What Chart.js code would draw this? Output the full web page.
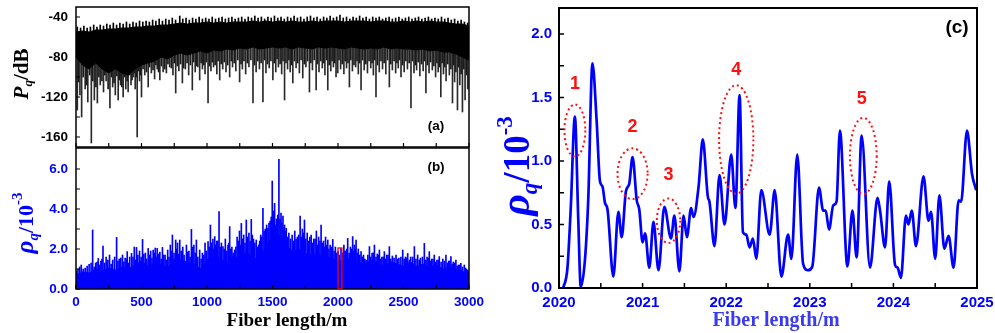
<!DOCTYPE html>
<html><head><meta charset="utf-8">
<script src="https://cdn.jsdelivr.net/npm/chart.js@4.4.0/dist/chart.umd.min.js"></script>
<style>
html,body{margin:0;padding:0;background:#fff;width:995px;height:333px;overflow:hidden;position:relative}
canvas{position:absolute;display:block}
</style></head><body>
<canvas id="ca" width="495" height="150" style="left:0;top:0;width:495px;height:150px"></canvas>
<canvas id="cb" width="495" height="187" style="left:0;top:146px;width:495px;height:187px"></canvas>
<canvas id="cc" width="505" height="333" style="left:490px;top:0;width:505px;height:333px"></canvas>
<script>
// ---------- DATA ----------
// panel (a)/(b) common sampling grid (m)
const abX = [0,50,100,150,200,250,300,350,400,450,500,550,600,650,700,750,800,850,900,950,1000,1050,1100,1150,1200,1250,1300,1350,1400,1450,1500,1550,1600,1650,1700,1750,1800,1850,1900,1950,2000,2050,2100,2150,2200,2250,2300,2350,2400,2450,2500,2550,2600,2650,2700,2750,2800,2850,2900,2950,3000];
// (a) upper and lower edge of the dense P_q band (dB)
const aTop = [-55,-54,-55,-53,-53,-52,-52,-51,-51,-50,-50,-49,-49,-48,-48,-47,-46,-47,-46,-46,-45,-46,-45,-46,-45,-45,-45,-44,-45,-44,-45,-44,-45,-44,-45,-45,-44,-45,-44,-44,-44,-45,-44,-44,-44,-45,-44,-44,-45,-45,-44,-45,-44,-45,-44,-45,-45,-46,-47,-47,-49];
const aBase = [-80,-88,-92,-86,-92,-96,-92,-96,-98,-92,-88,-86,-84,-80,-82,-78,-76,-78,-76,-74,-76,-73,-74,-72,-73,-71,-72,-70,-72,-71,-70,-71,-70,-72,-70,-71,-72,-70,-71,-70,-71,-72,-70,-71,-72,-71,-72,-70,-72,-71,-72,-72,-73,-72,-74,-73,-75,-75,-77,-80,-83];
// (a) upward excursions of the band top (position m, level dB)
const aPeakX = [10,35,60,85,110,135,160,185,210,235,260,285,310,335,360,385,410,435,460,485,510,535,560,585,610,635,660,685,710,735,760,792,815,840,865,890,915,940,965,990,1015,1040,1065,1090,1115,1140,1165,1190,1215,1240,1265,1290,1315,1340,1365,1390,1415,1440,1465,1490,1515,1540,1565,1590,1615,1640,1665,1690,1715,1740,1765,1790,1815,1840,1865,1890,1915,1940,1965,1990,2015,2040,2065,2090,2115,2140,2165,2190,2215,2240,2265,2290,2315,2340,2365,2390,2415,2440,2465,2490,2515,2540,2565,2590,2615,2640,2665,2690,2715,2740,2765,2790,2815,2840,2865,2890,2915,2940,2965,2990];
const aPeakY = [-50,-51,-49,-51,-50,-48,-50,-48,-49,-47,-48,-46,-48,-46,-47,-45,-47,-45,-46,-44,-45,-44,-45,-43,-44,-42,-44,-42,-43,-41,-43,-39,-42,-41,-43,-41,-42,-40,-42,-41,-42,-40,-42,-41,-40,-42,-41,-40,-42,-41,-40,-42,-40,-41,-39,-41,-40,-42,-40,-41,-39,-41,-40,-42,-40,-41,-39,-41,-40,-42,-40,-39,-41,-40,-42,-40,-41,-39,-41,-40,-38,-41,-40,-42,-40,-41,-39,-41,-40,-42,-40,-41,-40,-42,-41,-40,-42,-41,-40,-42,-41,-40,-42,-41,-40,-42,-41,-40,-42,-41,-42,-40,-42,-41,-43,-42,-44,-43,-45,-46];
// (a) deep downward dips (position m, depth dB)
const aSpikeX = [10,30,43,70,90,117,140,163,185,210,230,259,280,300,322,340,360,380,398,420,437,452,467,485,500,525,551,575,600,620,640,665,690,715,740,761,785,812,835,860,888,910,930,944,965,985,1008,1030,1050,1075,1097,1120,1145,1173,1195,1220,1249,1270,1295,1320,1351,1375,1400,1427,1450,1475,1503,1525,1545,1570,1592,1615,1635,1655,1680,1705,1731,1755,1782,1805,1833,1855,1880,1900,1922,1945,1965,1985,1998,2020,2045,2065,2087,2110,2135,2155,2176,2200,2225,2250,2270,2290,2315,2340,2365,2392,2415,2440,2460,2481,2505,2530,2557,2580,2600,2625,2650,2671,2695,2720,2745,2765,2785,2805,2825,2850,2874,2890,2912,2930,2950,2970,2990];
const aSpikeY = [-133,-118,-140,-112,-125,-166,-123,-126,-108,-115,-104,-131,-110,-118,-123,-108,-120,-112,-115,-108,-100,-112,-160,-104,-120,-98,-110,-96,-102,-92,-103,-95,-96,-90,-98,-116,-94,-106,-92,-98,-113,-95,-90,-103,-92,-97,-126,-94,-90,-97,-103,-92,-95,-100,-90,-94,-105,-92,-97,-90,-126,-95,-92,-125,-96,-91,-103,-95,-90,-97,-123,-92,-95,-106,-91,-96,-101,-90,-115,-93,-113,-95,-91,-98,-113,-94,-90,-100,-96,-92,-97,-91,-110,-94,-90,-97,-113,-93,-96,-91,-98,-120,-95,-92,-97,-110,-93,-96,-91,-100,-95,-92,-131,-96,-93,-99,-94,-116,-96,-93,-100,-95,-120,-97,-104,-98,-126,-105,-133,-108,-135,-123,-112];
// (a) shallower dips that roughen the band floor
const aShallowX = [20,55,80,105,128,152,175,198,220,245,270,290,312,332,350,370,390,410,428,445,460,475,492,512,538,562,588,610,630,652,678,702,728,750,773,798,822,848,873,898,920,955,975,995,1018,1040,1062,1085,1108,1132,1158,1185,1208,1235,1260,1282,1308,1335,1362,1388,1413,1438,1462,1488,1514,1535,1558,1580,1603,1625,1645,1668,1692,1718,1743,1768,1793,1818,1843,1868,1890,1912,1933,1955,1975,2008,2032,2055,2076,2098,2122,2145,2165,2188,2212,2237,2260,2280,2302,2328,2352,2378,2403,2428,2450,2470,2493,2518,2543,2568,2590,2612,2638,2660,2683,2707,2732,2755,2775,2795,2815,2838,2862,2882,2900,2922,2940,2960,2980];
const aShallowY = [-105,-100,-108,-98,-104,-110,-100,-104,-98,-112,-100,-106,-99,-103,-110,-100,-104,-98,-103,-96,-100,-94,-98,-92,-95,-90,-93,-88,-95,-89,-92,-87,-91,-86,-89,-87,-91,-86,-88,-85,-89,-86,-88,-85,-89,-85,-88,-84,-87,-85,-88,-84,-86,-83,-87,-84,-86,-83,-88,-84,-86,-83,-87,-84,-86,-82,-87,-84,-86,-83,-88,-84,-86,-83,-87,-84,-86,-83,-87,-84,-86,-83,-88,-84,-86,-83,-87,-84,-86,-83,-88,-84,-86,-83,-87,-84,-86,-83,-88,-84,-86,-83,-87,-84,-86,-83,-88,-84,-86,-84,-88,-85,-87,-84,-88,-85,-89,-86,-90,-86,-90,-87,-92,-88,-95,-90,-97,-92,-98];
const aAnchor = -60;
// (b) dense base level and peaks of rho_q (x10^-3)
const bBase = [0.70,0.85,0.80,1.00,0.90,1.05,0.95,1.10,1.00,1.20,1.40,1.15,1.30,1.25,1.05,1.50,1.45,1.35,1.25,1.00,1.45,1.75,1.55,1.30,1.65,1.50,1.85,1.60,1.40,2.20,2.60,2.70,2.20,1.90,2.00,1.80,1.70,1.80,1.50,1.60,1.35,1.50,1.55,1.35,1.25,1.45,1.35,1.15,1.35,1.25,1.15,1.35,1.15,1.25,1.10,1.20,1.00,1.10,1.00,0.90,0.70];
const bSpikeX = [15,40,70,100,127,150,170,190,206,230,256,280,310,330,355,375,391,410,424,445,462,485,508,530,551,570,589,605,620,640,660,680,700,720,736,761,775,792,815,843,862,881,900,919,944,965,985,1008,1026,1045,1059,1075,1092,1110,1122,1140,1160,1173,1190,1211,1230,1248,1262,1280,1300,1320,1338,1355,1376,1395,1410,1427,1445,1465,1482,1498,1508,1516,1530,1549,1565,1580,1592,1605,1625,1650,1670,1690,1711,1728,1744,1765,1795,1815,1835,1852,1871,1890,1905,1922,1940,1960,1980,2000,2023,2045,2060,2074,2095,2112,2125,2138,2155,2176,2195,2214,2240,2260,2278,2300,2316,2335,2354,2372,2392,2415,2443,2465,2494,2515,2532,2555,2583,2608,2630,2659,2680,2697,2715,2735,2755,2773,2800,2824,2845,2862,2880,2900,2920,2938,2964,2980,2990];
const bSpikeY = [1.0,1.2,1.05,1.23,2.95,1.3,1.53,1.4,2.15,1.6,1.7,1.45,2.58,1.5,1.7,1.55,1.87,1.6,1.78,2.1,2.08,1.9,2.48,1.8,2.03,1.9,1.95,2.05,2.03,1.85,2.08,1.7,1.95,2.2,2.7,2.45,2.3,2.45,2.1,2.2,1.9,2.98,2.2,2.45,1.95,1.8,2.3,2.37,3.2,2.5,2.62,2.4,3.87,2.3,2.12,2.5,2.2,3.12,2.1,1.95,2.6,2.9,3.28,2.7,3.45,2.8,3.48,2.5,2.45,2.2,2.7,4.03,3.0,3.03,3.4,5.4,3.9,4.28,3.5,6.48,3.8,3.65,3.2,3.03,2.8,2.7,2.9,2.6,3.65,3.0,3.45,2.8,2.7,2.5,2.9,2.6,3.2,2.4,2.6,2.45,2.2,2.48,2.1,1.9,2.03,2.2,1.9,2.53,2.1,2.62,2.2,2.45,2.0,1.87,1.7,1.45,2.12,1.8,2.2,1.75,1.95,1.6,1.87,1.7,2.12,1.65,1.7,1.55,1.95,1.6,1.78,1.6,2.12,1.7,1.55,2.28,1.6,1.87,1.5,1.7,1.45,1.62,1.5,1.7,1.4,1.62,1.35,1.45,1.2,1.28,1.2,1.0,0.95];
const bMidX = [5,28,55,85,115,140,160,180,198,218,243,268,295,320,342,365,383,400,435,453,472,497,518,540,560,580,597,612,630,650,670,690,710,728,748,768,784,803,825,853,871,890,910,930,955,975,995,1017,1035,1052,1067,1083,1101,1131,1150,1167,1182,1200,1220,1239,1255,1271,1290,1310,1329,1346,1365,1385,1402,1418,1436,1455,1473,1490,1503,1512,1523,1540,1557,1572,1586,1598,1615,1637,1660,1680,1700,1720,1736,1754,1775,1785,1805,1825,1843,1862,1880,1898,1913,1931,1950,1970,1990,2010,2035,2053,2067,2085,2104,2118,2131,2147,2165,2185,2205,2228,2250,2270,2290,2308,2325,2345,2363,2382,2403,2428,2454,2480,2505,2524,2545,2570,2595,2620,2645,2670,2688,2706,2725,2745,2765,2787,2812,2835,2853,2871,2890,2910,2928,2950,2972,2995];
const bMidY = [0.9,1.1,1.0,1.15,1.3,1.1,1.35,1.2,1.5,1.3,1.45,1.25,1.6,1.4,1.55,1.35,1.5,1.3,1.6,1.45,1.7,1.6,1.75,1.5,1.7,1.55,1.8,1.6,1.75,1.5,1.7,1.45,1.6,1.9,1.8,2.0,1.75,1.9,1.7,1.85,1.6,2.1,1.8,1.6,1.5,1.7,1.9,2.1,2.3,2.0,2.2,2.4,2.1,2.0,1.9,2.3,2.0,1.8,2.1,2.4,2.2,2.5,2.3,2.6,2.4,2.7,2.3,2.1,2.4,2.6,2.9,3.2,3.3,3.6,3.1,3.4,3.2,3.7,3.5,3.3,3.0,2.9,2.6,2.5,2.4,2.5,2.7,2.6,2.8,2.5,2.4,2.6,2.3,2.5,2.2,2.4,2.3,2.1,2.2,2.0,2.1,1.9,1.8,1.7,1.8,1.9,2.0,1.8,2.0,1.9,2.0,1.8,1.7,1.6,1.5,1.7,1.6,1.8,1.6,1.7,1.5,1.6,1.5,1.7,1.5,1.55,1.5,1.6,1.5,1.55,1.45,1.6,1.5,1.45,1.6,1.45,1.55,1.4,1.5,1.35,1.45,1.35,1.4,1.3,1.4,1.25,1.3,1.15,1.2,1.1,1.05,0.85];
// (b) zoom window marker
const bBoxX = [2000, 2030];
const bBoxY = [0, 2.05];
// (c) zoomed rho_q curve
const cX = [2020.05,2020.10,2020.14,2020.19,2020.23,2020.26,2020.31,2020.35,2020.40,2020.45,2020.49,2020.52,2020.55,2020.58,2020.65,2020.71,2020.75,2020.80,2020.84,2020.88,2020.93,2020.96,2021.00,2021.03,2021.08,2021.13,2021.19,2021.26,2021.34,2021.38,2021.44,2021.49,2021.53,2021.58,2021.61,2021.67,2021.72,2021.78,2021.80,2021.86,2021.92,2021.98,2022.06,2022.11,2022.16,2022.20,2022.24,2022.28,2022.32,2022.36,2022.42,2022.52,2022.58,2022.66,2022.74,2022.78,2022.85,2022.92,2022.98,2023.03,2023.11,2023.16,2023.19,2023.23,2023.28,2023.32,2023.36,2023.45,2023.51,2023.56,2023.62,2023.72,2023.81,2023.84,2023.90,2023.95,2024.02,2024.05,2024.09,2024.15,2024.18,2024.22,2024.27,2024.36,2024.42,2024.45,2024.50,2024.55,2024.61,2024.66,2024.72,2024.78,2024.81,2024.88,2024.94,2024.99];
const cY = [0.00,0.15,0.62,1.35,0.55,0.01,0.22,0.70,1.77,1.32,0.84,0.80,0.67,0.62,0.09,0.60,0.40,0.76,0.82,1.03,0.69,0.62,0.36,0.43,0.16,0.52,0.14,0.64,0.39,0.57,0.13,0.57,0.40,0.63,0.56,0.80,1.17,0.72,0.68,0.33,0.89,0.50,1.05,0.63,1.52,0.44,0.42,0.32,0.39,0.23,0.77,0.42,0.77,0.09,0.42,0.23,1.05,0.19,0.14,0.17,0.79,0.61,0.61,0.46,0.65,0.68,1.24,0.17,0.61,0.24,1.20,0.16,0.71,0.61,0.32,0.84,0.18,0.16,0.08,0.57,0.50,0.61,0.33,0.88,0.53,0.60,0.23,0.73,0.31,0.41,0.16,0.69,0.68,1.24,0.90,0.77];
// (c) circled features
const ellLabel = ['1','2','3','4','5'];
const ellCx = [2020.19,2020.88,2021.31,2022.12,2023.64];
const ellCy = [1.24,0.90,0.53,1.17,1.04];
const ellRx = [0.125,0.18,0.14,0.205,0.16];
const ellRy = [0.205,0.20,0.175,0.427,0.30];
const lblX = [2020.19,2020.88,2021.31,2022.12,2023.62];
const lblY = [1.61,1.27,0.89,1.72,1.49];
// tick values
const aTicksY = [-40,-80,-120,-160];
const aMinorY = [-60,-100,-140];
const abTicksX = [0,500,1000,1500,2000,2500,3000];
const abMinorX = [250,750,1250,1750,2250,2750];
const bTicksY = [0,2,4,6];
const bMinorY = [1,3,5];
const cTicksX = [2020,2021,2022,2023,2024,2025];
const cMinorX = [2020.5,2021.5,2022.5,2023.5,2024.5];
const cTicksY = [0,0.5,1,1.5,2];
const cMinorY = [0.25,0.75,1.25,1.75];

// ---------- HELPERS ----------
const SERIF = "'Liberation Serif','Times New Roman',serif";
const SANS = "'Liberation Sans',Arial,sans-serif";
const BLUE = '#0000ff';

function rich(ctx, x, y, rot, parts, color){
  ctx.save(); ctx.translate(x, y); ctx.rotate(rot);
  ctx.fillStyle = color; ctx.textBaseline = 'alphabetic'; ctx.textAlign = 'left';
  let w = 0;
  parts.forEach(p => { ctx.font = p.f; p.w = ctx.measureText(p.t).width; w += p.w; });
  let cx = -w / 2;
  parts.forEach(p => { ctx.font = p.f; ctx.fillText(p.t, cx, p.dy || 0); cx += p.w; });
  ctx.restore();
}
function label(ctx, t, x, y, font, color){
  ctx.save(); ctx.font = font; ctx.fillStyle = color; ctx.textAlign = 'center'; ctx.textBaseline = 'middle';
  ctx.fillText(t, x, y); ctx.restore();
}
function framePlugin(cfg){
  return { id: 'frame' + cfg.name, afterDraw(chart){
    const ctx = chart.ctx, a = chart.chartArea, sx = chart.scales.x, sy = chart.scales.y;
    ctx.save(); ctx.strokeStyle = '#000'; ctx.lineWidth = cfg.tw;
    ctx.beginPath();
    cfg.xt.forEach(v => { const p = sx.getPixelForValue(v); ctx.moveTo(p, a.bottom); ctx.lineTo(p, a.bottom - cfg.len); });
    cfg.yt.forEach(v => { const p = sy.getPixelForValue(v); ctx.moveTo(a.left, p); ctx.lineTo(a.left + cfg.len, p); });
    ctx.stroke();
    ctx.lineWidth = cfg.lw;
    ctx.strokeRect(a.left, a.top, a.right - a.left, a.bottom - a.top);
    ctx.restore();
    cfg.deco(chart);
  }};
}
function yScale(min, max, ticks, color, size, pad, width, fmt){
  return { type: 'linear', min, max,
    afterBuildTicks: s => { s.ticks = ticks.map(v => ({ value: v })); },
    afterFit: s => { s.width = width; s.paddingTop = 0; s.paddingBottom = 0; },
    grid: { display: false, drawTicks: false }, border: { display: false },
    ticks: { color, padding: pad, font: { family: SANS, size, weight: 'bold' }, callback: fmt } };
}
function xScale(min, max, ticks, color, size, pad, height, fmt, show){
  return { type: 'linear', min, max, offset: false, display: show,
    afterBuildTicks: s => { s.ticks = ticks.map(v => ({ value: v })); },
    afterFit: s => { s.height = height; s.paddingLeft = 0; s.paddingRight = 0; },
    grid: { display: false, drawTicks: false, offset: false }, border: { display: false },
    ticks: { color, padding: pad, maxRotation: 0, autoSkip: false, font: { family: SANS, size, weight: 'bold' }, callback: fmt } };
}
const baseOpts = { responsive: false, animation: false, events: [],
  plugins: { legend: { display: false }, tooltip: { enabled: false } } };
const thin = (xs, ys, lo, color) => ({ type: 'bar', data: xs.map((x, i) => ({ x, y: lo === null ? ys[i] : [ys[i], lo] })), backgroundColor: color, barThickness: 1, grouped: false });

// ---------- PANEL (a) ----------
new Chart(document.getElementById('ca'), {
  type: 'line',
  data: { datasets: [
    { data: abX.map((x, i) => ({ x, y: aTop[i] })), borderColor: '#000', borderWidth: 1, pointRadius: 0, tension: 0, fill: '+1', backgroundColor: '#000' },
    { data: abX.map((x, i) => ({ x, y: aBase[i] })), borderColor: '#000', borderWidth: 1, pointRadius: 0, tension: 0, fill: false },
    thin(aPeakX, aPeakY, aAnchor, '#000'),
    thin(aShallowX, aShallowY, aAnchor, '#1a1a1a'),
    thin(aSpikeX, aSpikeY, aAnchor, '#2a2a2a')
  ]},
  options: Object.assign({}, baseOpts, {
    layout: { padding: { top: 7, right: 26, bottom: 3, left: 0 } },
    scales: {
      x: xScale(0, 3000, abTicksX, '#000', 13.5, 5, 0, v => String(v), false),
      y: yScale(-170, -30, aTicksY, '#000', 13.5, 8, 76, v => String(v))
    }
  }),
  plugins: [framePlugin({ name: 'a', lw: 1.5, tw: 1.2, len: 4, xt: abTicksX.concat(abMinorX), yt: aTicksY.concat(aMinorY), deco: ch => {
    const ctx = ch.ctx;
    rich(ctx, 28, 74, -Math.PI / 2, [
      { t: 'P', f: `italic bold 21px ${SERIF}` },
      { t: 'q', f: `italic bold 13px ${SERIF}`, dy: 4 },
      { t: '/dB', f: `bold 21px ${SERIF}` }], '#000');
    label(ctx, '(a)', 436, 126, `bold 13.5px ${SANS}`, '#000');
  }})]
});

// ---------- PANEL (b) ----------
new Chart(document.getElementById('cb'), {
  type: 'line',
  data: { datasets: [
    { data: abX.map((x, i) => ({ x, y: bBase[i] })), borderColor: BLUE, borderWidth: 1, pointRadius: 0, tension: 0, fill: 'origin', backgroundColor: BLUE },
    thin(bMidX, bMidY, null, BLUE),
    thin(bSpikeX, bSpikeY, null, BLUE)
  ]},
  options: Object.assign({}, baseOpts, {
    layout: { padding: { top: 2, right: 26, bottom: 0, left: 0 } },
    scales: {
      x: xScale(0, 3000, abTicksX, BLUE, 13.5, 5, 44, v => String(v), true),
      y: yScale(0, 7.05, bTicksY, BLUE, 13.5, 8, 76, v => Number(v).toFixed(1))
    }
  }),
  plugins: [framePlugin({ name: 'b', lw: 1.5, tw: 1.2, len: 4, xt: abTicksX.concat(abMinorX), yt: bTicksY.concat(bMinorY), deco: ch => {
    const ctx = ch.ctx, sx = ch.scales.x, sy = ch.scales.y;
    const x0 = sx.getPixelForValue(bBoxX[0]), x1 = sx.getPixelForValue(bBoxX[1]);
    const y0 = sy.getPixelForValue(bBoxY[0]), y1 = sy.getPixelForValue(bBoxY[1]);
    ctx.save(); ctx.strokeStyle = '#ff0000'; ctx.lineWidth = 1.3;
    ctx.strokeRect(x0, y1, x1 - x0, y0 - y1); ctx.restore();
    rich(ctx, 33, 77, -Math.PI / 2, [
      { t: 'ρ', f: `italic bold 25px ${SERIF}` },
      { t: 'q', f: `italic bold 15px ${SERIF}`, dy: 5 },
      { t: '/10', f: `bold 22px ${SERIF}` },
      { t: '-3', f: `bold 15px ${SERIF}`, dy: -11 }], BLUE);
    rich(ctx, 287, 180, 0, [{ t: 'Fiber length/m', f: `bold 19px ${SERIF}` }], '#000');
    label(ctx, '(b)', 436, 21, `bold 13.5px ${SANS}`, '#000');
  }})]
});

// ---------- PANEL (c) ----------
new Chart(document.getElementById('cc'), {
  type: 'line',
  data: { datasets: [
    { data: cX.map((x, i) => ({ x, y: cY[i] })), borderColor: BLUE, borderWidth: 2.7, pointRadius: 0, cubicInterpolationMode: 'monotone', fill: false }
  ]},
  options: Object.assign({}, baseOpts, {
    layout: { padding: { top: 8, right: 18, bottom: 0, left: 0 } },
    scales: {
      x: xScale(2020, 2025, cTicksX, BLUE, 15, 6, 45, v => String(v), true),
      y: yScale(0, 2.205, cTicksY, BLUE, 15, 7, 69, v => Number(v).toFixed(1))
    }
  }),
  plugins: [framePlugin({ name: 'c', lw: 2, tw: 1.5, len: 5, xt: cTicksX.concat(cMinorX), yt: cTicksY.concat(cMinorY), deco: ch => {
    const ctx = ch.ctx, sx = ch.scales.x, sy = ch.scales.y;
    ctx.save(); ctx.strokeStyle = '#ff1010'; ctx.lineWidth = 2; ctx.setLineDash([2, 3]);
    ellCx.forEach((cx, i) => {
      const px = sx.getPixelForValue(cx), py = sy.getPixelForValue(ellCy[i]);
      const rx = Math.abs(sx.getPixelForValue(cx + ellRx[i]) - px);
      const ry = Math.abs(sy.getPixelForValue(ellCy[i] + ellRy[i]) - py);
      ctx.beginPath(); ctx.ellipse(px, py, rx, ry, 0, 0, Math.PI * 2); ctx.stroke();
    });
    ctx.restore();
    ellLabel.forEach((t, i) => label(ctx, t, sx.getPixelForValue(lblX[i]), sy.getPixelForValue(lblY[i]), `bold 18px ${SANS}`, '#ff1010'));
    rich(ctx, 39, 166, -Math.PI / 2, [
      { t: 'ρ', f: `italic bold 42px ${SERIF}` },
      { t: 'q', f: `italic bold 23px ${SERIF}`, dy: 8 },
      { t: '/10', f: `bold 37px ${SERIF}` },
      { t: '-3', f: `bold 23px ${SERIF}`, dy: -17 }], BLUE);
    rich(ctx, 286, 326, 0, [{ t: 'Fiber length/m', f: `bold 20px ${SERIF}` }], '#3a3af0');
    label(ctx, '(c)', 467, 28, `bold 19px ${SANS}`, '#000');
  }})]
});
</script>
</body></html>
